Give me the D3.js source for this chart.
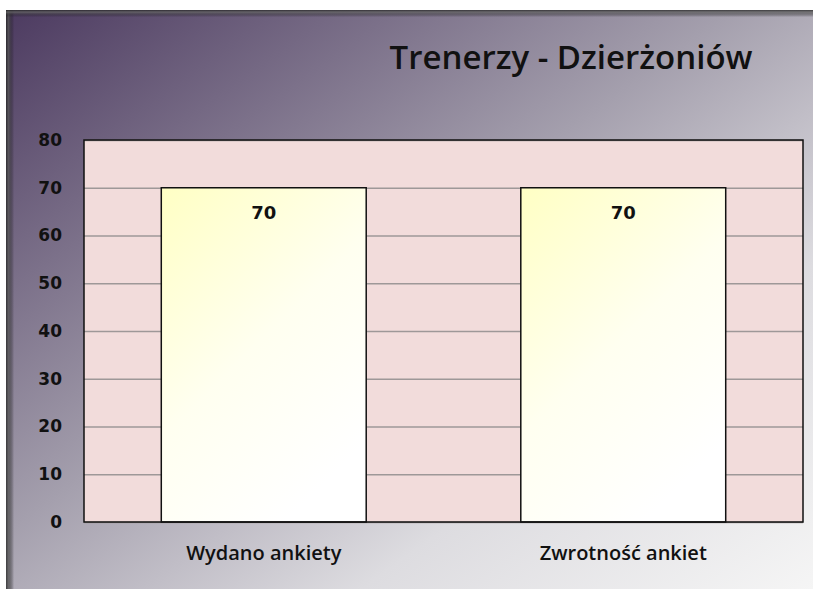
<!DOCTYPE html>
<html>
<head>
<meta charset="utf-8">
<script src="https://cdn.jsdelivr.net/npm/d3@7"></script>
<style>
  body { margin: 0; background: #fff; }
  svg { display: block; }
</style>
</head>
<body>
<div id="chart"></div>
<script>
// data
var categories = ["Wydano ankiety", "Zwrotność ankiet"];
var values = [70, 70];
var yTicks = [0, 10, 20, 30, 40, 50, 60, 70, 80];
var title = "Trenerzy - Dzierżoniów";

var width = 813, height = 591;
var plot = { left: 84, top: 140, right: 803, bottom: 522 };

var svg = d3.select("#chart").append("svg")
    .attr("width", width)
    .attr("height", height);

var defs = svg.append("defs");

// background of the chart frame: purple top-left to light grey bottom-right
var bg = defs.append("linearGradient")
    .attr("id", "bgGrad")
    .attr("x1", "0").attr("y1", "0")
    .attr("x2", "1").attr("y2", "1");
bg.append("stop").attr("offset", "0").attr("stop-color", "#4c3a60");
bg.append("stop").attr("offset", "0.45").attr("stop-color", "#a49fad");
bg.append("stop").attr("offset", "0.72").attr("stop-color", "#dddce0");
bg.append("stop").attr("offset", "1").attr("stop-color", "#f5f5f5");

// bar fill: pale yellow to white
var barGrad = defs.append("linearGradient")
    .attr("id", "barGrad")
    .attr("x1", "0").attr("y1", "0")
    .attr("x2", "0.6").attr("y2", "1");
barGrad.append("stop").attr("offset", "0").attr("stop-color", "#ffffc4");
barGrad.append("stop").attr("offset", "0.55").attr("stop-color", "#fffff0");
barGrad.append("stop").attr("offset", "1").attr("stop-color", "#ffffff");

// left bevel
var bevL = defs.append("linearGradient").attr("id", "bevL")
    .attr("x1", "0").attr("x2", "1").attr("y1", "0").attr("y2", "0");
bevL.append("stop").attr("offset", "0").attr("stop-color", "#222");
bevL.append("stop").attr("offset", "0.3").attr("stop-color", "#555");
bevL.append("stop").attr("offset", "1").attr("stop-color", "#000").attr("stop-opacity", 0);

var bevT = defs.append("linearGradient").attr("id", "bevT")
    .attr("x1", "0").attr("x2", "0").attr("y1", "0").attr("y2", "1");
bevT.append("stop").attr("offset", "0").attr("stop-color", "#222");
bevT.append("stop").attr("offset", "0.3").attr("stop-color", "#666");
bevT.append("stop").attr("offset", "1").attr("stop-color", "#000").attr("stop-opacity", 0);

svg.append("rect")
    .attr("x", 6).attr("y", 10)
    .attr("width", width - 6).attr("height", height - 12)
    .attr("fill", "url(#bgGrad)");

svg.append("rect")
    .attr("x", 6).attr("y", 10)
    .attr("width", 8).attr("height", height - 12)
    .attr("fill", "url(#bevL)").attr("opacity", 0.8);
svg.append("rect")
    .attr("x", 6).attr("y", 10)
    .attr("width", width - 6).attr("height", 7)
    .attr("fill", "url(#bevT)").attr("opacity", 0.8);

// scales
var x = d3.scaleBand()
    .domain(categories)
    .range([plot.left, plot.right])
    .paddingInner(0.43)
    .paddingOuter(0.215);

var y = d3.scaleLinear()
    .domain([0, 80])
    .range([plot.bottom, plot.top]);

// plot area
svg.append("rect")
    .attr("x", plot.left).attr("y", plot.top)
    .attr("width", plot.right - plot.left)
    .attr("height", plot.bottom - plot.top)
    .attr("fill", "#f2dcdb");

// gridlines
svg.append("g")
    .attr("transform", "translate(" + plot.left + ",0)")
    .call(d3.axisLeft(y).tickValues(yTicks).tickSize(-(plot.right - plot.left)).tickFormat(""))
    .call(function(g) {
        g.select(".domain").remove();
        g.selectAll("line").attr("stroke", "#9e9898").attr("stroke-width", 1.5);
    });

// bars
svg.selectAll(".bar")
    .data(values)
    .enter().append("rect")
    .attr("class", "bar")
    .attr("x", function(d, i) { return x(categories[i]); })
    .attr("width", x.bandwidth())
    .attr("y", function(d) { return y(d); })
    .attr("height", function(d) { return y(0) - y(d); })
    .attr("fill", "url(#barGrad)")
    .attr("stroke", "#111")
    .attr("stroke-width", 1.5);

// value labels
svg.selectAll(".val")
    .data(values)
    .enter().append("text")
    .attr("class", "val")
    .attr("x", function(d, i) { return x(categories[i]) + x.bandwidth() / 2; })
    .attr("y", function(d) { return y(d) + 31; })
    .attr("text-anchor", "middle")
    .attr("font-family", "DejaVu Sans")
    .attr("font-weight", "bold")
    .attr("font-size", 18)
    .attr("fill", "#111")
    .text(function(d) { return d; });

// plot border
svg.append("rect")
    .attr("x", plot.left).attr("y", plot.top)
    .attr("width", plot.right - plot.left)
    .attr("height", plot.bottom - plot.top)
    .attr("fill", "none")
    .attr("stroke", "#111")
    .attr("stroke-width", 1.5);

// y axis labels
svg.append("g")
    .attr("transform", "translate(" + plot.left + ",0)")
    .call(d3.axisLeft(y).tickValues(yTicks).tickSize(0).tickPadding(22))
    .call(function(g) {
        g.select(".domain").remove();
        g.selectAll("text")
            .attr("font-family", "DejaVu Sans")
            .attr("font-weight", "bold")
            .attr("font-size", 17)
            .attr("fill", "#111");
    });

// x axis labels
svg.append("g")
    .attr("transform", "translate(0," + plot.bottom + ")")
    .call(d3.axisBottom(x).tickSize(0).tickPadding(24))
    .call(function(g) {
        g.select(".domain").remove();
        g.selectAll("text")
            .attr("font-family", "Open Sans")
            .attr("font-weight", 600)
            .attr("font-size", 20)
            .attr("fill", "#111");
    });

// title
svg.append("text")
    .attr("x", 571)
    .attr("y", 69)
    .attr("text-anchor", "middle")
    .attr("font-family", "Open Sans")
    .attr("font-weight", 600)
    .attr("font-size", 33)
    .attr("fill", "#111")
    .text(title);
</script>
</body>
</html>
